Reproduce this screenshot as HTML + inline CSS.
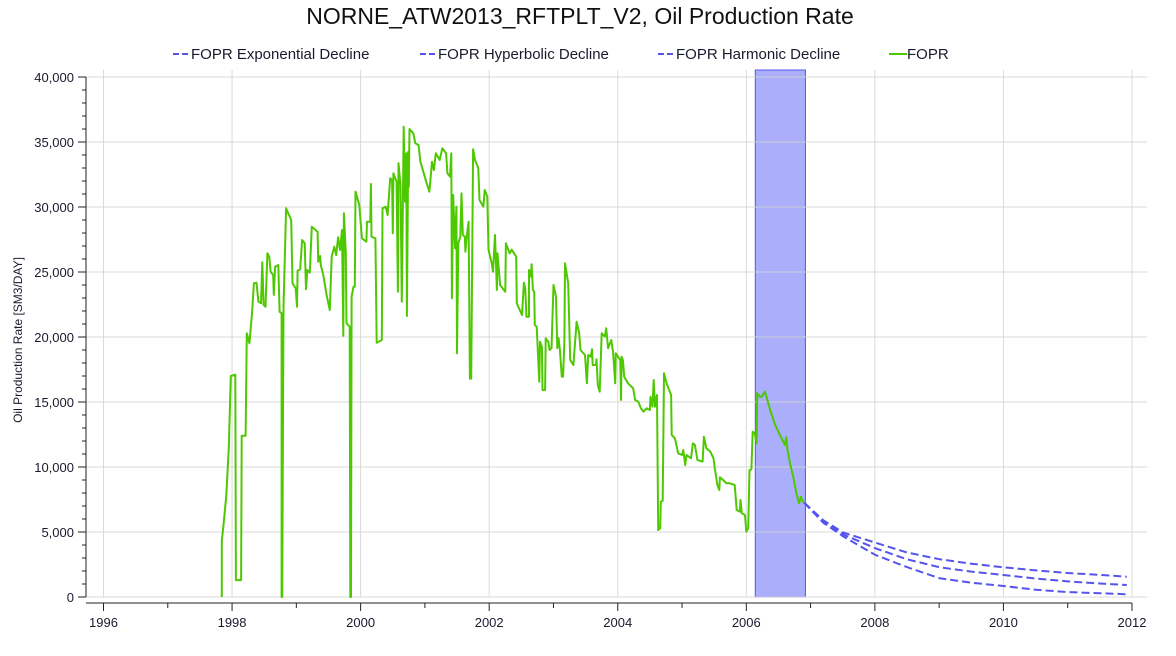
<!DOCTYPE html>
<html><head><meta charset="utf-8"><style>
html,body{margin:0;padding:0;background:#fff;}
svg{display:block;font-family:"Liberation Sans",sans-serif;}
</style></head><body>
<svg id="chart" width="1176" height="656" viewBox="0 0 1176 656">
<text x="580" y="24" text-anchor="middle" font-size="23" fill="#111">NORNE_ATW2013_RFTPLT_V2, Oil Production Rate</text>
<g>
 <g><line x1="173" y1="54" x2="191" y2="54" stroke="#5555ee" stroke-width="2" stroke-dasharray="6 3"/><text x="191" y="59" font-size="15" fill="#1a1a2e">FOPR Exponential Decline</text></g>
 <g><line x1="420" y1="54" x2="438" y2="54" stroke="#5555ee" stroke-width="2" stroke-dasharray="6 3"/><text x="438" y="59" font-size="15" fill="#1a1a2e">FOPR Hyperbolic Decline</text></g>
 <g><line x1="658" y1="54" x2="676" y2="54" stroke="#5555ee" stroke-width="2" stroke-dasharray="6 3"/><text x="676" y="59" font-size="15" fill="#1a1a2e">FOPR Harmonic Decline</text></g>
 <g><line x1="889" y1="54" x2="907" y2="54" stroke="#4ec800" stroke-width="2"/><text x="907" y="59" font-size="15" fill="#1a1a2e">FOPR</text></g>
</g>
<text transform="translate(22,340) rotate(-90)" text-anchor="middle" font-size="12" fill="#1a1a2e">Oil Production Rate [SM3/DAY]</text>
<g id="band"></g><g id="grid"></g><g id="axes"></g><g id="series"></g>
</svg>
<script>
const xTicks = [1996,1998,2000,2002,2004,2006,2008,2010,2012];
const yTicks = [0,5000,10000,15000,20000,25000,30000,35000,40000];
const bandRange = [2006.14, 2006.92];
const foprYears = [1997.84,1997.84,1997.87,1997.91,1997.95,1997.98,1998.05,1998.06,1998.14,1998.15,1998.21,1998.23,1998.27,1998.31,1998.34,1998.38,1998.41,1998.45,1998.47,1998.49,1998.52,1998.55,1998.58,1998.60,1998.64,1998.65,1998.67,1998.72,1998.74,1998.77,1998.77,1998.78,1998.80,1998.84,1998.92,1998.94,1998.99,1999.01,1999.02,1999.06,1999.09,1999.13,1999.15,1999.17,1999.21,1999.24,1999.33,1999.34,1999.37,1999.38,1999.42,1999.47,1999.52,1999.55,1999.59,1999.62,1999.65,1999.68,1999.71,1999.73,1999.74,1999.77,1999.78,1999.83,1999.84,1999.85,1999.86,1999.89,1999.91,1999.92,1999.98,2000.02,2000.09,2000.10,2000.15,2000.16,2000.17,2000.23,2000.25,2000.33,2000.34,2000.39,2000.42,2000.46,2000.49,2000.50,2000.51,2000.56,2000.58,2000.59,2000.62,2000.64,2000.67,2000.69,2000.71,2000.72,2000.74,2000.75,2000.76,2000.82,2000.85,2000.90,2000.93,2001.02,2001.07,2001.11,2001.14,2001.17,2001.23,2001.27,2001.33,2001.35,2001.39,2001.41,2001.42,2001.44,2001.47,2001.49,2001.50,2001.52,2001.55,2001.57,2001.59,2001.62,2001.63,2001.65,2001.68,2001.70,2001.72,2001.75,2001.78,2001.83,2001.85,2001.91,2001.93,2001.97,2001.99,2002.04,2002.06,2002.09,2002.12,2002.13,2002.17,2002.25,2002.26,2002.32,2002.35,2002.42,2002.43,2002.51,2002.54,2002.56,2002.58,2002.62,2002.62,2002.65,2002.66,2002.68,2002.70,2002.71,2002.74,2002.78,2002.79,2002.82,2002.83,2002.87,2002.88,2002.92,2002.94,2002.97,2003.00,2003.04,2003.06,2003.08,2003.10,2003.13,2003.15,2003.17,2003.18,2003.23,2003.26,2003.31,2003.36,2003.40,2003.42,2003.49,2003.52,2003.54,2003.58,2003.60,2003.61,2003.66,2003.67,2003.69,2003.72,2003.75,2003.80,2003.82,2003.85,2003.90,2003.93,2003.96,2003.97,2004.04,2004.05,2004.06,2004.08,2004.10,2004.16,2004.24,2004.27,2004.32,2004.36,2004.40,2004.45,2004.50,2004.51,2004.54,2004.56,2004.58,2004.61,2004.63,2004.66,2004.67,2004.70,2004.72,2004.76,2004.83,2004.84,2004.89,2004.94,2005.00,2005.02,2005.05,2005.07,2005.14,2005.17,2005.20,2005.24,2005.32,2005.34,2005.38,2005.44,2005.49,2005.51,2005.55,2005.58,2005.59,2005.64,2005.69,2005.74,2005.82,2005.85,2005.90,2005.91,2005.93,2005.98,2006.00,2006.03,2006.05,2006.08,2006.10,2006.13,2006.16,2006.17,2006.21,2006.24,2006.29,2006.32,2006.37,2006.45,2006.52,2006.60,2006.62,2006.64,2006.68,2006.73,2006.78,2006.82,2006.85,2006.88,2006.90];
const foprValues = [0,4300,5700,7800,11500,17000,17100,1300,1300,12400,12400,20282,19512,21820,24128,24180,22718,22590,25744,22461,22333,26436,26180,25026,24770,23230,25410,25539,21948,21820,0,0,22333,29897,29000,24128,23744,22333,25102,25205,27461,27205,23666,25154,24949,28487,28102,25795,26231,25539,24769,23230,22077,26179,26948,26307,27666,26692,28230,20102,29512,26436,21051,20795,0,0,23102,23871,23871,31179,30154,27589,27333,28871,28871,31769,27718,27589,19564,19769,29897,30025,29384,32204,32076,27974,32589,31948,23487,33358,31692,22718,36179,30410,34128,21615,34256,31564,36000,35666,34897,34769,33487,31948,31179,33487,32846,34128,33615,34512,34128,32589,32333,34128,22974,30923,26820,30025,18743,27205,27718,31051,27845,27718,26564,27718,28871,16800,16800,34435,33615,32974,30538,30025,31307,30794,26692,25666,25026,27846,23615,26436,24000,23487,27205,26436,26718,26180,22590,21692,24180,23744,21565,21565,25155,24642,25590,23616,23488,20924,20796,16565,19642,19257,15924,15924,19898,19642,19000,19128,24001,23104,19129,19898,19000,16950,16950,19770,25667,24129,18232,17847,21180,20283,19001,18616,16437,18616,18488,19052,17847,17847,18283,16309,15795,20283,20027,20668,19129,19770,18744,16437,18744,18232,15155,18488,18232,16950,16437,16052,15155,15027,14514,14258,14514,14386,15411,14643,16694,14643,15539,5155,5282,7334,7400,17206,16437,15539,12462,12206,11052,10924,11309,10155,10924,10668,11822,11693,10540,10412,12334,11437,11181,10668,9898,8617,8232,9206,9001,8745,8745,8617,6693,6565,7462,6437,6309,5027,5283,9770,9822,12719,12591,11822,15667,15411,15411,15795,15282,14385,13231,12500,11693,12282,11359,10283,9257,7975,7206,7718,7334,7257];
const forecastYears = [2006.90,2007.20,2007.51,2008.01,2008.50,2009.01,2009.50,2010.00,2010.50,2011.00,2011.50,2011.92];
const harmonicValues = [7257,5900,4950,4180,3420,2900,2560,2283,2050,1850,1700,1565];
const hyperbolicValues = [7257,5800,4800,3744,2900,2283,1950,1693,1420,1200,1040,924];
const exponentialValues = [7257,5700,4650,3231,2300,1437,1100,847,560,380,290,206];

const NS='http://www.w3.org/2000/svg';
const X0=103.5, PXY=64.28, Y0=597, PXV=0.013;
function xs(y){return X0+(y-1996)*PXY;}
function ys(v){return Y0-v*PXV;}
function mk(tag,attrs,parent){const e=document.createElementNS(NS,tag);for(const k in attrs)e.setAttribute(k,attrs[k]);parent.appendChild(e);return e;}
const band=document.getElementById('band'),grid=document.getElementById('grid'),axes=document.getElementById('axes'),series=document.getElementById('series');
const PL=86,PR=1147,PT=70,PB=597;

const br=mk('rect',{x:xs(bandRange[0]),y:PT,width:xs(bandRange[1])-xs(bandRange[0]),height:PB-PT,fill:'#aaaefb',stroke:'#5555ee','stroke-width':1},band);



yTicks.forEach(v=>{
  const g=mk('line',{x1:PL,x2:PR,y1:ys(v),y2:ys(v),stroke:'#d3d3d3','stroke-opacity':0.85,'stroke-width':1},grid);
  
  
  mk('line',{x1:PL-8,x2:PL,y1:ys(v),y2:ys(v),stroke:'#222'},axes);
  const t=mk('text',{x:PL-12,y:ys(v)+5,'text-anchor':'end','font-size':13,fill:'#1a1a2e'},axes);
  t.textContent=v.toLocaleString('en-US');
  
  
});
for(let v=0;v<=40000;v+=1000){ if(v%5000) mk('line',{x1:PL-4,x2:PL,y1:ys(v),y2:ys(v),stroke:'#222'},axes); }
xTicks.forEach(y=>{
  const g=mk('line',{x1:xs(y),x2:xs(y),y1:PT,y2:PB,stroke:'#d3d3d3','stroke-opacity':0.85,'stroke-width':1},grid);
  
  
  mk('line',{x1:xs(y),x2:xs(y),y1:603,y2:611,stroke:'#222'},axes);
  const t=mk('text',{x:xs(y),y:627,'text-anchor':'middle','font-size':13,fill:'#1a1a2e'},axes);
  t.textContent=String(y);
  
  
});
for(let y=1997;y<2012;y+=2) mk('line',{x1:xs(y),x2:xs(y),y1:603,y2:608,stroke:'#222'},axes);
const ya=mk('line',{x1:PL,x2:PL,y1:77,y2:PB,stroke:'#222'},axes);


const xa=mk('line',{x1:PL,x2:xs(2012),y1:603,y2:603,stroke:'#222'},axes);



function pts(xsArr,vs){return xsArr.map((y,i)=>xs(y).toFixed(1)+','+ys(vs[i]).toFixed(1)).join(' ');}
[['harmonic-decline-line',harmonicValues],['hyperbolic-decline-line',hyperbolicValues],['exponential-decline-line',exponentialValues]].forEach(([n,vals])=>{
  const p=mk('polyline',{points:pts(forecastYears,vals),fill:'none',stroke:'#5555ee','stroke-width':2,'stroke-dasharray':'8 4'},series);
  
  
});
const fl=mk('polyline',{points:pts(foprYears,foprValues),fill:'none',stroke:'#4ec800','stroke-width':2,'stroke-linejoin':'round'},series);


</script>
</body></html>
